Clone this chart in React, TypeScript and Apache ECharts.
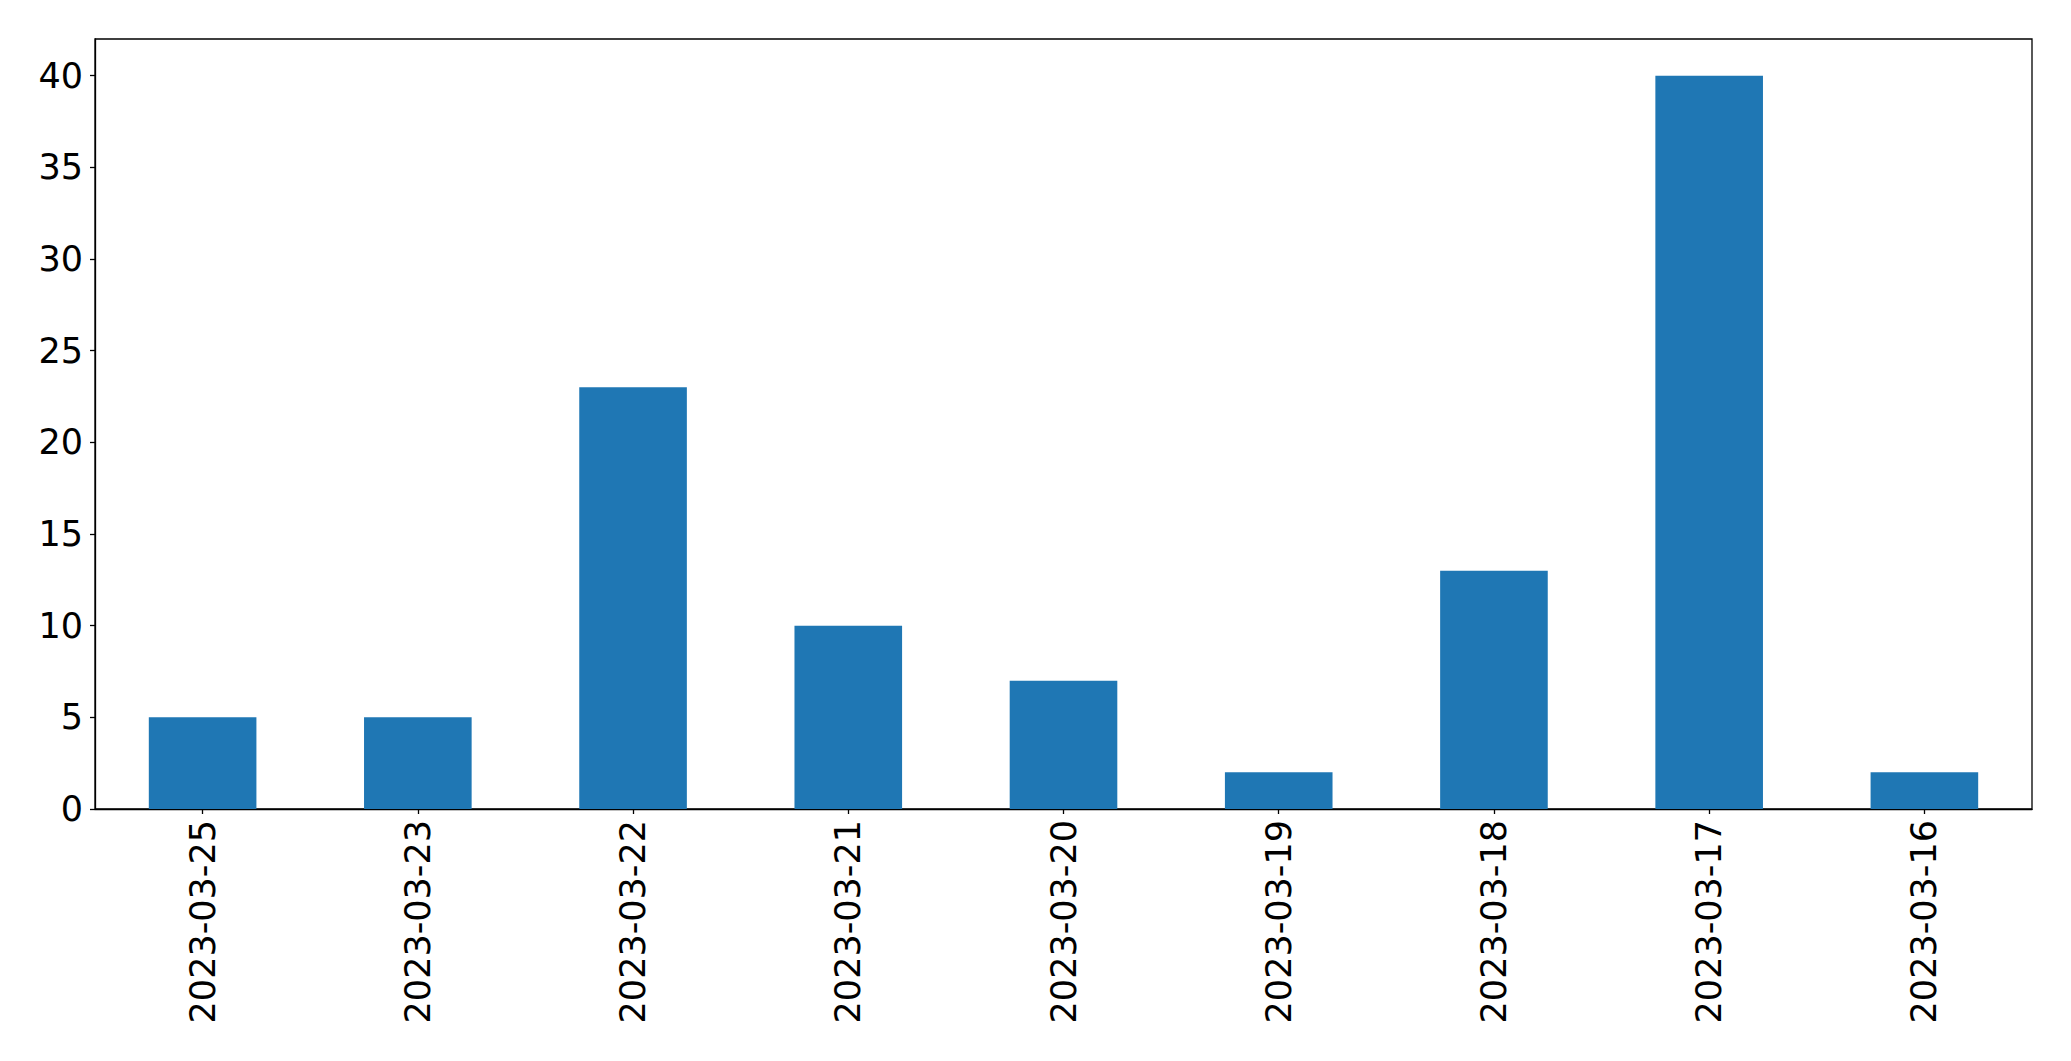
import React, { useEffect, useRef } from "react";
import * as echarts from "echarts";

const categories = [
  "2023-03-25",
  "2023-03-23",
  "2023-03-22",
  "2023-03-21",
  "2023-03-20",
  "2023-03-19",
  "2023-03-18",
  "2023-03-17",
  "2023-03-16",
];
const values = [5, 5, 23, 10, 7, 2, 13, 40, 2];
const yTicks = [0, 5, 10, 15, 20, 25, 30, 35, 40];

export default function App() {
  const ref = useRef<HTMLDivElement>(null);
  useEffect(() => {
    if (!ref.current) return;
    const chart = echarts.init(ref.current, undefined, { renderer: "svg" });
    const font = "DejaVu Sans";
    chart.setOption({
      animation: false,
      backgroundColor: "#ffffff",
      grid: {
        left: 95,
        top: 39,
        right: 39,
        bottom: 252,
        show: true,
        borderColor: "#000000",
        borderWidth: 1.3,
        containLabel: false,
      },
      xAxis: {
        type: "category",
        data: categories,
        boundaryGap: true,
        axisLine: { show: true, lineStyle: { color: "#000", width: 1.3 } },
        axisTick: {
          show: true,
          alignWithLabel: true,
          length: 5,
          lineStyle: { color: "#000", width: 1.3 },
        },
        axisLabel: {
          rotate: 90,
          interval: 0,
          margin: 11,
          color: "#000",
          fontFamily: font,
          fontSize: 35,
        },
        splitLine: { show: false },
      },
      yAxis: {
        type: "value",
        min: 0,
        max: 42,
        axisLine: { show: true, lineStyle: { color: "#000", width: 1.3 } },
        axisTick: {
          show: true,
          length: 5,
          lineStyle: { color: "#000", width: 1.3 },
          customValues: yTicks,
        },
        axisLabel: {
          margin: 12,
          color: "#000",
          fontFamily: font,
          fontSize: 35,
          customValues: yTicks,
        },
        splitLine: { show: false },
      },
      series: [
        {
          type: "bar",
          data: values,
          barWidth: "50%",
          itemStyle: { color: "#1f77b4" },
        },
      ],
    });
    return () => chart.dispose();
  }, []);
  return (
    <div
      ref={ref}
      style={{ position: "fixed", left: 0, top: 0, width: 2071, height: 1061 }}
    />
  );
}
